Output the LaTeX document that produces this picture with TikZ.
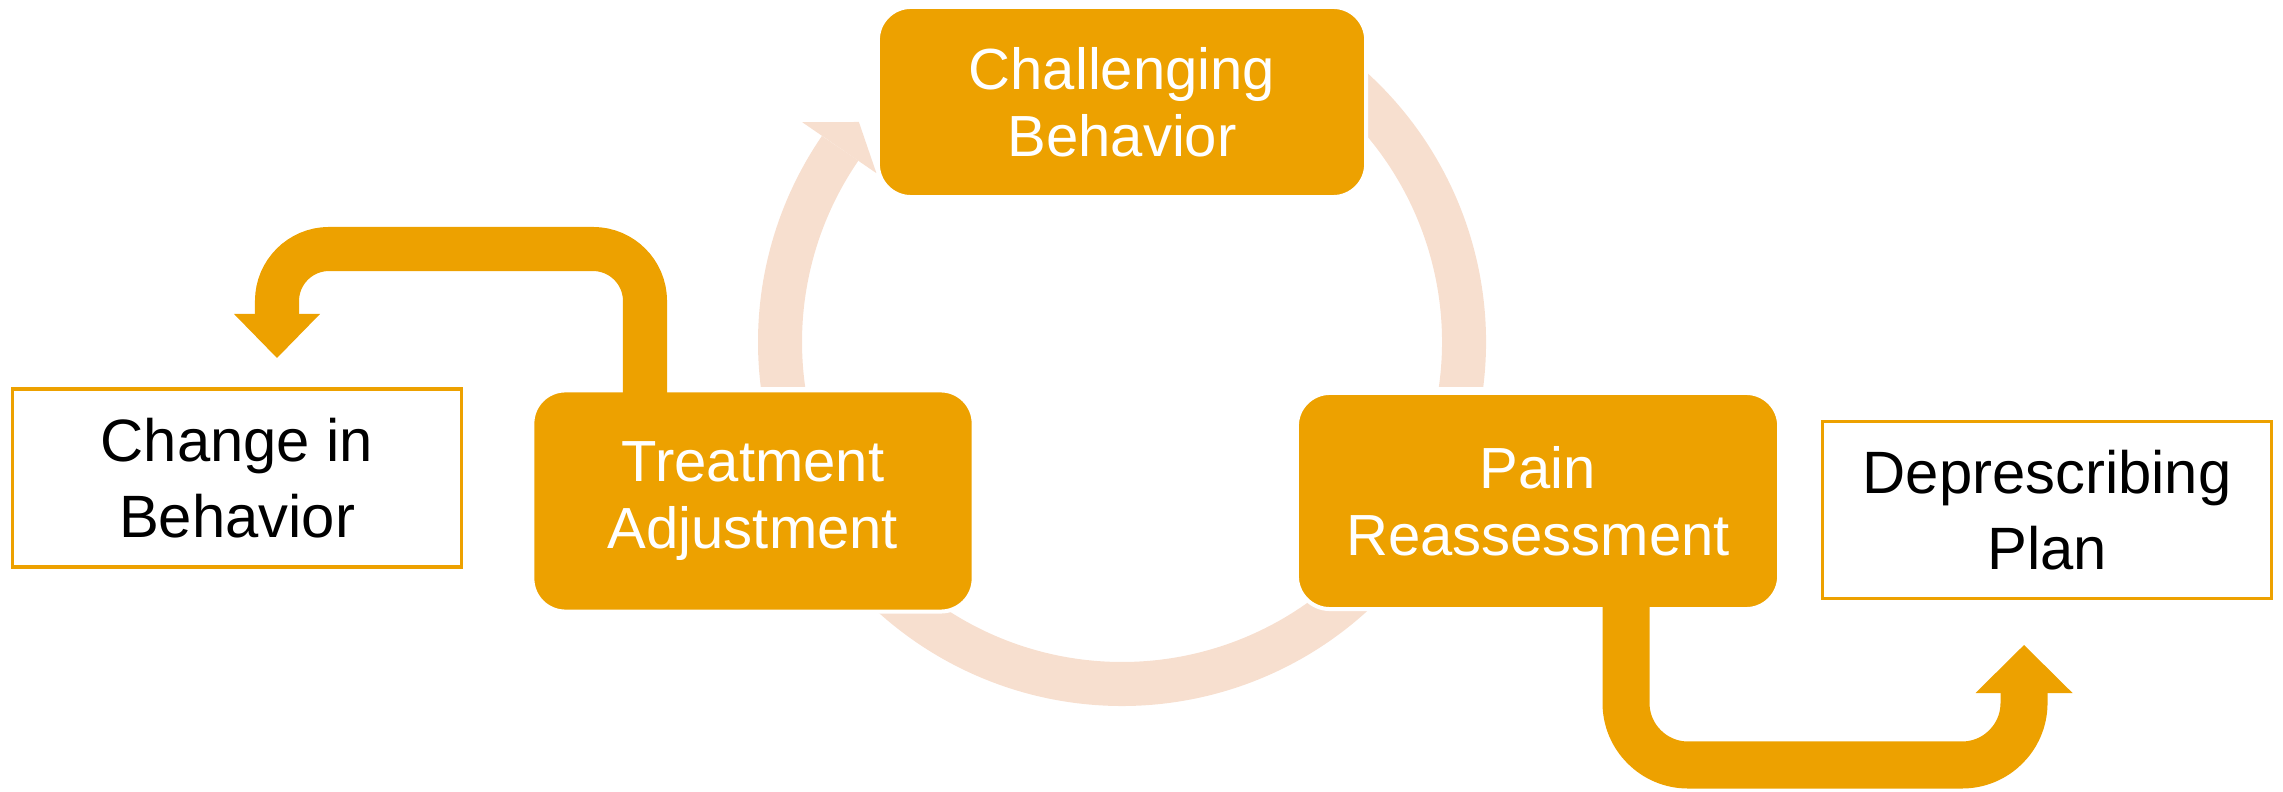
\documentclass[tikz,border=0pt]{standalone}
\usepackage{fontspec}
\setmainfont{Liberation Sans}
\usetikzlibrary{arrows.meta}
\definecolor{gold}{RGB}{237,161,0}
\definecolor{peach}{RGB}{247,223,207}

\begin{document}
\begin{tikzpicture}[x=0.01cm, y=-0.01cm,
    cycbox/.style={rectangle, rounded corners=0.33cm, fill=gold, draw=white, line width=0.04cm,
        text=white, align=center, inner sep=0pt, outer sep=0pt, font=\fontsize{16.5}{19}\selectfont},
    outbox/.style={rectangle, fill=white, draw=gold, line width=0.035cm,
        text=black, align=center, inner sep=0pt, font=\fontsize{17}{21.6}\selectfont},
    ring/.style={draw=peach, line width=0.44cm},
    elbow/.style={draw=gold, shorten <=-0.03cm}]
    \useasboundingbox (0,0) rectangle (2283,792);

    % Cycle arrows behind the boxes
    \coordinate (ctr) at (1122,342);
    \begin{scope}
        \clip (0,0) rectangle (2283,387); % flat ends above the lower boxes
        \draw[ring] (ctr) ++(165:342) arc[start angle=165, end angle=214.5, radius=342]; % up to the top box
        \draw[ring] (ctr) ++(300:342) arc[start angle=300, end angle=375, radius=342]; % down the right side
    \end{scope}
    \fill[peach] ([shift={(214.5:388)}]ctr) -- ([shift={(219.9:343)}]ctr) -- ([shift={(214.5:298)}]ctr) -- cycle; % its head
    \draw[ring] (ctr) ++(40:342) arc[start angle=40, end angle=140, radius=342]; % along the bottom

    % Steps of the cycle
    \node[cycbox, minimum width=4.88cm, minimum height=1.90cm] (chal) at (1122,102) {Challenging\\Behavior};
    \node[cycbox, minimum width=4.41cm, minimum height=2.21cm] (treat) at (753,501) {Treatment\\Adjustment};
    \node[cycbox, minimum width=4.82cm, minimum height=2.16cm] (pain) at (1538,501) {Pain\\Reassessment};

    % Outcomes
    \node[outbox, minimum width=4.49cm, minimum height=1.78cm] (change) at (237,478) {Change in\\Behavior};
    \node[outbox, minimum width=4.49cm, minimum height=1.77cm] (depr) at (2047,510) {Deprescribing\\Plan};

    % Bent arrows out of the cycle
    \coordinate (tBend) at (645,249);
    \coordinate (cTip) at (277,358);
    \draw[elbow, line width=0.44cm, rounded corners=0.52cm, -{Triangle[width=0.86cm, length=0.44cm, line width=0pt]}]
        (treat.north -| tBend) -- (tBend) -- (tBend -| cTip) -- (cTip);
    \coordinate (pBend) at (1626,765);
    \coordinate (dTip) at (2024,645);
    \draw[elbow, line width=0.47cm, rounded corners=0.62cm, -{Triangle[width=0.97cm, length=0.48cm, line width=0pt]}]
        (pain.south -| pBend) -- (pBend) -- (pBend -| dTip) -- (dTip);
\end{tikzpicture}
\end{document}
